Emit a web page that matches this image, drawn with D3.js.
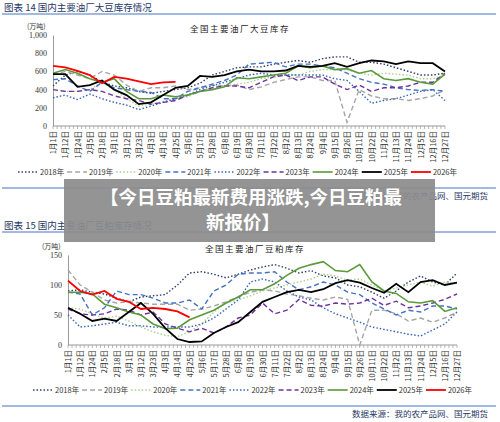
<!DOCTYPE html>
<html><head><meta charset="utf-8">
<script src="https://cdn.jsdelivr.net/npm/d3@7.9.0/dist/d3.min.js"></script>
<style>
body{margin:0;background:#fff;}
svg{display:block;font-family:"Noto Sans CJK SC",sans-serif;}
</style></head>
<body><svg id="c" width="500" height="422"></svg>
<script>
// x categories shared by both charts
const dates = ['1月1日','1月12日','1月24日','2月5日','2月18日','3月1日','3月12日','3月23日','4月3日','4月14日','4月25日',
  '5月6日','5月17日','5月28日','6月8日','6月19日','6月30日','7月11日','7月22日','8月2日','8月13日','8月24日',
  '9月4日','9月15日','9月26日','10月11日','10月22日','11月2日','11月13日','11月24日','12月5日','12月16日','12月27日'];
const years = ['2018年','2019年','2020年','2021年','2022年','2023年','2024年','2025年','2026年'];

// chart 14: soybean stocks (万吨)
const bean2018 = [440,560,600,560,480,440,420,380,360,380,400,420,470,560,600,640,650,650,680,700,720,700,740,760,760,700,700,680,640,600,560,560,580];
const bean2019 = [560,600,560,520,600,560,450,380,420,420,440,400,420,450,440,450,400,430,480,510,540,540,500,500,40,400,330,300,300,280,300,330,400];
const bean2020 = [400,380,380,400,480,400,300,220,240,270,300,320,380,420,440,460,480,520,540,560,560,600,620,620,620,580,560,580,570,560,520,520,560];
const bean2021 = [510,520,440,380,480,420,400,380,370,300,300,380,420,460,500,560,680,690,700,650,680,680,660,640,580,520,480,460,420,400,390,400,380];
const bean2022 = [310,340,290,350,300,260,230,180,220,260,300,340,400,440,480,520,560,580,560,560,560,560,560,520,500,380,250,280,300,340,380,400,280];
const bean2023 = [400,380,380,400,380,330,300,280,240,260,280,340,380,420,440,440,420,480,540,560,500,540,540,460,400,450,380,420,420,440,480,480,580];
const bean2024 = [580,620,580,520,480,520,380,300,300,340,320,340,380,400,430,530,520,540,560,580,660,640,660,620,630,580,610,520,500,520,480,460,570];
const bean2025 = [570,570,430,450,500,400,340,240,260,340,420,440,550,540,560,600,620,600,600,610,660,650,660,690,650,690,720,710,680,710,690,690,600];
const bean2026 = [660,645,605,560,470,540,520,490,460,480,485];

// chart 15: soybean meal stocks (万吨)
const meal2018 = [90,92,88,85,78,72,80,82,84,100,120,122,118,112,118,125,130,134,128,120,124,115,112,100,97,88,78,90,105,115,105,100,120];
const meal2019 = [125,100,88,75,70,72,70,68,68,68,58,60,65,72,80,88,92,90,85,82,78,75,80,76,0,58,58,52,40,45,38,45,55];
const meal2020 = [62,60,52,45,48,40,30,22,16,14,22,35,55,70,75,82,90,95,100,105,110,118,115,108,110,100,90,95,100,105,98,105,102];
const meal2021 = [88,85,50,62,90,84,84,78,70,70,75,60,90,100,118,120,120,122,105,92,97,105,100,88,84,70,60,50,58,55,65,65,60];
const meal2022 = [50,30,32,35,38,32,32,30,30,30,30,35,45,60,75,105,110,105,90,80,75,62,52,45,38,30,26,22,18,15,25,35,55];
const meal2023 = [60,52,50,52,60,58,50,55,35,28,22,28,20,30,45,50,70,52,58,76,66,65,70,68,70,78,66,73,62,65,70,76,85];
const meal2024 = [88,88,85,68,62,55,50,35,27,28,42,50,58,70,80,92,92,102,116,128,134,139,124,122,134,105,90,86,72,70,74,56,62];
const meal2025 = [62,52,40,44,40,55,70,52,28,10,5,6,20,30,38,55,72,80,88,92,88,93,103,108,104,95,87,102,88,105,108,100,104];
const meal2026 = [107,90,84,90,77,72,60,62,60,56,46];

const styles = [
  {c:'#2f3e6b', d:'1.5,2', w:1.4},
  {c:'#a6a6a6', d:'5,3', w:1.4},
  {c:'#a9d18e', d:'1.5,2', w:1.4},
  {c:'#4472c4', d:'5,3', w:1.4},
  {c:'#3565b8', d:'1.5,2', w:1.4},
  {c:'#7030a0', d:'5,3', w:1.4},
  {c:'#5b9a3a', d:null, w:1.6},
  {c:'#000000', d:null, w:1.8},
  {c:'#ff0000', d:null, w:1.8}
];

const svg = d3.select('#c');
const blue = '#4472c4', navy = '#1f3864';

function panel(o) {
  const g = svg.append('g');
  g.append('text').attr('x', 4).attr('y', o.top + 10.5).attr('font-size', 9.5).attr('fill', navy).text(o.head);
  g.append('line').attr('x1', 2).attr('x2', 496).attr('y1', o.top + 14).attr('y2', o.top + 14)
    .attr('stroke', blue).attr('stroke-width', 1);

  const x = d3.scalePoint().domain(d3.range(dates.length)).range([o.x0, o.x1]);
  const y = d3.scaleLinear().domain([0, o.max]).range([o.y0, o.y1]);

  g.append('text').attr('x', o.x0 - 26).attr('y', o.y1 - 6).attr('font-size', 7).attr('fill', '#333').text('(万吨)');
  g.append('text').attr('x', o.tx).attr('y', o.y1 - 3).attr('text-anchor', 'middle')
    .attr('font-size', 8.5).attr('fill', '#222').attr('letter-spacing', 1.5).text(o.title);

  // y axis
  const ya = g.append('g').attr('transform', `translate(${o.x0},0)`)
    .call(d3.axisLeft(y).tickValues(o.ticks).tickSize(0).tickPadding(6).tickFormat(d3.format(',')));
  ya.select('.domain').attr('stroke', '#999');
  ya.selectAll('text').attr('font-family', '"Liberation Serif",serif').attr('font-size', 8).attr('fill', '#333');

  // x axis with minor ticks
  const step = x.step();
  const minor = d3.range(0, (dates.length - 1) * 3 + 1).map(k => o.x0 + k * step / 3);
  g.append('line').attr('x1', o.x0).attr('x2', o.x1).attr('y1', o.y0).attr('y2', o.y0).attr('stroke', '#999');
  g.selectAll('.mt').data(minor).join('line').attr('x1', d => d).attr('x2', d => d)
    .attr('y1', o.y0).attr('y2', o.y0 + 3).attr('stroke', '#999').attr('stroke-width', 0.7);
  g.selectAll('.xl').data(dates).join('text')
    .attr('transform', (d, i) => `translate(${x(i) + 3},${o.y0 + 5}) rotate(-90)`)
    .attr('text-anchor', 'end').attr('font-size', 7.5).attr('fill', '#333').text(d => d);

  // series
  const line = d3.line().x((d, i) => x(i)).y(d => y(d));
  o.series.forEach((s, k) => {
    const st = styles[k];
    g.append('path').datum(s).attr('d', line).attr('fill', 'none')
      .attr('stroke', st.c).attr('stroke-width', st.w).attr('stroke-dasharray', st.d);
  });

  // legend
  const lw = (o.lx1 - o.lx0) / years.length;
  years.forEach((yr, k) => {
    const st = styles[k], lx = o.lx0 + k * lw;
    g.append('line').attr('x1', lx).attr('x2', lx + 20).attr('y1', o.ly).attr('y2', o.ly)
      .attr('stroke', st.c).attr('stroke-width', st.w).attr('stroke-dasharray', st.d);
    g.append('text').attr('x', lx + 22).attr('y', o.ly + 3).attr('font-size', 7.5).attr('fill', '#333').text(yr);
  });

  g.append('line').attr('x1', 2).attr('x2', 496).attr('y1', o.rule).attr('y2', o.rule)
    .attr('stroke', blue).attr('stroke-width', 1);
  g.append('text').attr('x', 488).attr('y', o.rule + 11).attr('text-anchor', 'end')
    .attr('font-size', 8.5).attr('fill', navy).text('数据来源：我的农产品网、国元期货');
}

panel({top: 0, head: '图表 14  国内主要油厂大豆库存情况', title: '全国主要油厂大豆库存',
  x0: 53, x1: 445, y0: 126, y1: 35, max: 1000, ticks: [0,200,400,600,800,1000], tx: 240,
  series: [bean2018,bean2019,bean2020,bean2021,bean2022,bean2023,bean2024,bean2025,bean2026],
  lx0: 18, lx1: 460, ly: 172, rule: 188});

panel({top: 218, head: '图表 15  国内主要油厂豆粕库存情况', title: '全国主要油厂豆粕库存',
  x0: 68, x1: 457, y0: 345, y1: 255, max: 150, ticks: [0,50,100,150], tx: 255,
  series: [meal2018,meal2019,meal2020,meal2021,meal2022,meal2023,meal2024,meal2025,meal2026],
  lx0: 33, lx1: 475, ly: 390, rule: 406});

// overlay banner
svg.append('rect').attr('x', 64).attr('y', 179).attr('width', 371).attr('height', 63)
  .attr('fill', '#8c8c8c').attr('opacity', 0.93);
const bt = svg.append('text').attr('text-anchor', 'middle').attr('fill', '#fff')
  .attr('font-weight', 'bold').attr('font-size', 18.5);
bt.append('tspan').attr('x', 251).attr('y', 204).text('【今日豆粕最新费用涨跌,今日豆粕最');
bt.append('tspan').attr('x', 243).attr('y', 229).text('新报价】');
</script></body></html>
